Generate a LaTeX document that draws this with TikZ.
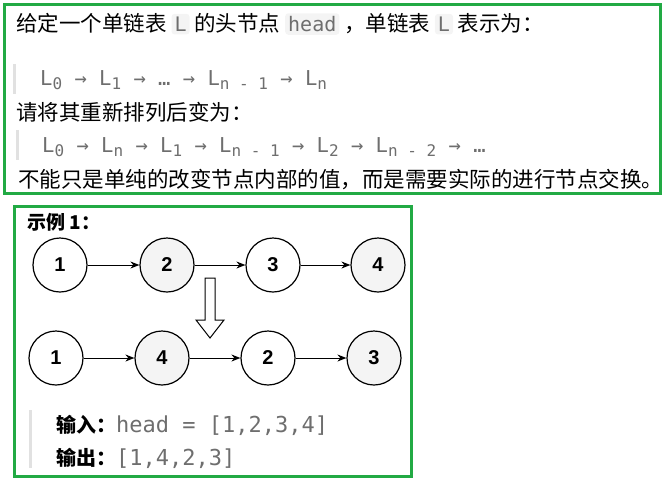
\documentclass[tikz,border=0pt]{standalone}
\usepackage{fontspec}
\setmainfont{Noto Sans CJK SC}
\setmonofont{DejaVu Sans Mono}
\newfontfamily\numfont{Liberation Sans}
\usetikzlibrary{positioning,arrows.meta}
\definecolor{frame}{RGB}{34,170,68}
\definecolor{codegray}{RGB}{110,110,110}
\definecolor{chip}{RGB}{244,244,244}
\definecolor{qbar}{RGB}{225,225,225}
\tikzset{
  listnode/.style={circle,draw,line width=1.2pt,minimum size=54pt,inner sep=0pt,font=\numfont\bfseries\fontsize{20}{20}\selectfont},
  darknode/.style={listnode,fill=chip},
  link/.style={-{Stealth[length=9pt,width=7pt]},line width=1pt},
  txt/.style={anchor=west,inner sep=0pt,font=\fontsize{21.5}{24}\selectfont},
  code/.style={txt,text=codegray,font=\ttfamily\fontsize{20.5}{24}\selectfont},
  codechip/.style={fill=chip,rounded corners=3pt,inner sep=3pt,text=codegray,font=\ttfamily\fontsize{20}{24}\selectfont}
}
\newcommand{\sbs}[1]{\raisebox{-4pt}{\fontsize{16}{16}\selectfont #1}}
\begin{document}
\begin{tikzpicture}[x=1pt,y=-1pt]
\useasboundingbox (0,0) rectangle (664,480);
% frames
\draw[frame,line width=3pt] (4,4) rectangle (660,193);
\draw[frame,line width=3pt] (14,206) rectangle (411,476);
\fill[qbar] (13,64) rectangle (16,94);
\fill[qbar] (16,130) rectangle (19,160);
\fill[qbar] (29,410) rectangle (32,468);
% description
\node[txt] (t1) at (16,24) {给定一个单链表 \tikz[baseline=(c.base)]\node[codechip] (c) {L}; 的头节点 \tikz[baseline=(c.base)]\node[codechip] (c) {head}; ，单链表 \tikz[baseline=(c.base)]\node[codechip] (c) {L}; 表示为：};
\node[code] (t2) at (40,80) {L\sbs{0} → L\sbs{1} → … → L\sbs{n - 1} → L\sbs{n}};
\node[txt] (t3) at (16,112) {请将其重新排列后变为：};
\node[code] (t4) at (42,147) {L\sbs{0} → L\sbs{n} → L\sbs{1} → L\sbs{n - 1} → L\sbs{2} → L\sbs{n - 2} → …};
\node[txt] (t5) at (18,180) {不能只是单纯的改变节点内部的值，而是需要实际的进行节点交换。};
% example
\node[txt,font=\bfseries\fontsize{19}{22}\selectfont] (ex) at (27,222) {示例 1：};
\node[listnode] (a1) at (60,265) {1};
\node[darknode] (a2) at (167,265) {2};
\node[listnode] (a3) at (273,265) {3};
\node[darknode] (a4) at (378,265) {4};
\node[listnode] (b1) at (56,358) {1};
\node[darknode] (b2) at (162,358) {4};
\node[listnode] (b3) at (268,358) {2};
\node[darknode] (b4) at (374,358) {3};
\foreach \u/\v in {a1/a2,a2/a3,a3/a4,b1/b2,b2/b3,b3/b4}
  \draw[link] (\u) -- (\v);
\draw[line width=1pt,fill=white] (205,278) -- (215,278) -- (215,320) -- (224,320) -- (210,338) -- (196,320) -- (205,320) -- cycle;
\node[txt,font=\bfseries\fontsize{20}{24}\selectfont] (in) at (56,425) {输入：\mdseries\ttfamily\fontsize{22}{24}\selectfont\color{codegray}head = [1,2,3,4]};
\node[txt,font=\bfseries\fontsize{20}{24}\selectfont] (out) at (56,458) {输出：\mdseries\ttfamily\fontsize{22}{24}\selectfont\color{codegray}[1,4,2,3]};
\end{tikzpicture}
\end{document}
